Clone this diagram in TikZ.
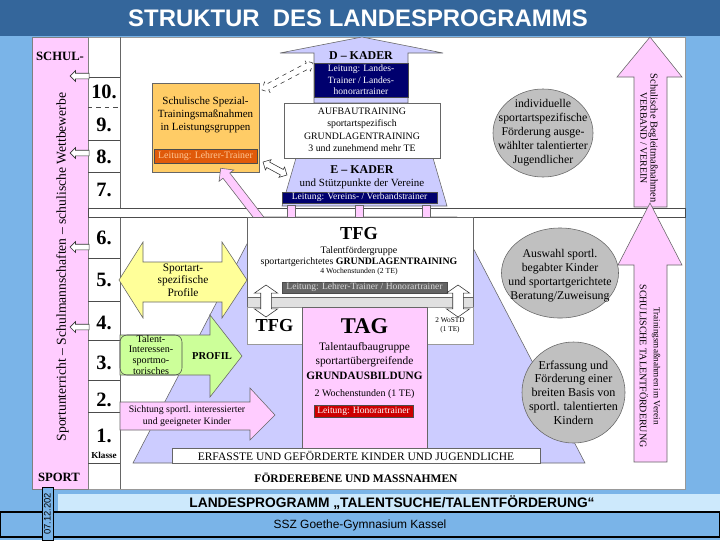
\documentclass[tikz,border=0pt]{standalone}
\usepackage{fontspec}
\setmainfont{Liberation Serif}
\newfontfamily\arialfont{Liberation Sans}
\usetikzlibrary{shapes.geometric,shapes.arrows,positioning}

\definecolor{bgblue}{RGB}{122,180,232}
\definecolor{titleblue}{RGB}{52,102,155}
\definecolor{lightband}{RGB}{205,233,252}
\definecolor{colpink}{RGB}{255,204,255}
\definecolor{lav}{RGB}{204,204,255}
\definecolor{navy}{RGB}{0,0,110}
\definecolor{spezorange}{RGB}{255,204,102}
\definecolor{leitorange}{RGB}{224,90,10}
\definecolor{leitorangetxt}{RGB}{255,200,150}
\definecolor{leitgray}{RGB}{100,100,100}
\definecolor{leitred}{RGB}{204,0,0}
\definecolor{ovalgray}{RGB}{192,192,192}
\definecolor{yelarr}{RGB}{255,255,153}
\definecolor{grnarr}{RGB}{204,255,153}
\definecolor{pinkarr}{RGB}{255,204,255}

\begin{document}
\begin{tikzpicture}[x=0.025cm, y=-0.025cm]
        \tikzstyle{numlbl} = [inner sep=0, font=\fontsize{14.5}{14.5}\selectfont\bfseries]
        \tikzstyle{leit} = [draw=black!70, inner sep=0, text=white, font=\fontsize{6.8}{8.2}\selectfont]
        \tikzstyle{oval} = [ellipse, draw=black!60, fill=ovalgray, inner sep=0]
        \tikzstyle{ovaltext} = [align=center, inner sep=0, font=\fontsize{8.4}{10}\selectfont]
        \tikzstyle{hollow} = [single arrow, draw=black!80, fill=white, inner sep=0.0625cm, single arrow head extend=0.065cm, single arrow head indent=0, minimum height=0.475cm]
        \tikzstyle{hollowdbl} = [double arrow, draw=black!80, fill=white, double arrow head indent=0]
        \tikzstyle{blockarr} = [draw=black!60, line join=miter]
        \tikzstyle{panel} = [draw=black!60, inner sep=0]

        \useasboundingbox (0,0) rectangle (720,540);

        % hintergrund und titel
        \fill[bgblue] (0,0) rectangle (720,540);
        \fill[titleblue] (0,0) rectangle (720,36);
        \node[text=white, font=\arialfont\bfseries\fontsize{17}{17}\selectfont] (title) at (358,18) {STRUKTUR\ \ DES LANDESPROGRAMMS};

        % tafel mit klassenspalte
        \draw[black!40, fill=white] (32,37) rectangle (685,489);
        \draw[black!50, fill=colpink] (32,37) rectangle (88,489);
        \draw[black!60] (120,37) -- (120,489);
        \foreach \yy in {77,140,172,258,301,340,380,412,463}
            \draw[black!70] (88,\yy) -- (120,\yy);
        \draw[black!70, dashed] (88,107) -- (120,107);
        \draw[black!70, fill=white] (88,208) rectangle (685,217);

        \foreach \n/\yy in {10/92,9/125,8/157,7/190,6/238,5/280,4/323,3/363,2/400,1/436}
            \node[numlbl] (cls\n) at (104,\yy) {\n.};
        \node[font=\fontsize{6.5}{6.5}\selectfont\bfseries] (klasse) at (104,455) {Klasse};

        \node[font=\fontsize{9}{9}\selectfont\bfseries] (schul) at (60,56) {SCHUL-};
        \node[font=\fontsize{9}{9}\selectfont\bfseries] (sport) at (59,477) {SPORT};
        \node[rotate=90, font=\fontsize{9.7}{9.7}\selectfont] (sportvert) at (62.5,267) {Sportunterricht -- Schulmannschaften -- schulische Wettbewerbe};

        % pyramide
        \draw[black!60, fill=lav] (133,463) -- (585,463) -- (457,217) -- (261,217) -- cycle;
        \draw[black!60, fill=lav] (282,206) -- (447,206) -- (433,158) -- (296,158) -- cycle;
        \draw[blockarr, fill=lav] (314,103) -- (314,53) -- (280,53) -- (362,37) -- (443,53) -- (408,53) -- (408,103) -- cycle;
        \node[panel, fill=white, minimum width=3.9cm, minimum height=1.375cm] (aufbau) at (362,130.5) {};
        \node[align=center, font=\fontsize{7}{8.9}\selectfont] (aufbautxt) at (362,130) {AUFBAUTRAINING\\sportartspezifisch\\GRUNDLAGENTRAINING\\3 und zunehmend mehr TE};

        \node[font=\fontsize{8.5}{8.5}\selectfont\bfseries] (dkader) at (361,56) {D -- KADER};
        \node[leit, fill=navy, minimum width=2.35cm, minimum height=0.85cm, align=center] (dleit) at (361,80) {Leitung: Landes-\\Trainer / Landes-\\honorartrainer};
        \node[font=\fontsize{8.5}{8.5}\selectfont\bfseries] (ekader) at (362,170) {E -- KADER};
        \node[font=\fontsize{7.8}{7.8}\selectfont] (ekstuetz) at (362,184) {und Stützpunkte der Vereine};
        \node[leit, fill=navy, minimum width=3.875cm, minimum height=0.275cm] (eleit) at (359.5,197.5) {Leitung: Vereins- / Verbandstrainer};

        % schulische spezialtrainings
        \node[panel, fill=spezorange, minimum width=2.675cm, minimum height=2.225cm] (spezial) at (205.5,127.5) {};
        \node[align=center, font=\fontsize{7.8}{9.2}\selectfont] (speztxt) at (205.5,115) {Schulische Spezial-\\Trainingsmaßnahmen\\in Leistungsgruppen};
        \node[leit, fill=leitorange, text=leitorangetxt, minimum width=2.575cm, minimum height=0.35cm, font=\fontsize{7}{7}\selectfont] (spezleit) at (205.5,156) {Leitung: Lehrer-Trainer};

        % rosa pfeile nach oben
        \foreach \xx in {291,359,426}
            \draw[black!60, fill=pinkarr] (\xx-4,205) rectangle (\xx+4,226);
        \node[single arrow, draw=black!60, fill=pinkarr, inner sep=0.1cm, single arrow head extend=0.125cm, single arrow head indent=0, minimum height=1.96cm, rotate=127.7] (diagarr) at (246,201) {};

        % TFG / TAG
        \node[panel, fill=white, minimum width=5.65cm, minimum height=2cm] (tfg) at (360,257) {};
        \node[font=\fontsize{13}{13}\selectfont\bfseries] (tfgtitle) at (359,234) {TFG};
        \node[font=\fontsize{7.1}{7.1}\selectfont] (tfgname) at (359,251) {Talentfördergruppe};
        \node[font=\fontsize{7}{7}\selectfont] (tfgtrain) at (359,262) {sportartgerichtetes \textbf{GRUNDLAGENTRAINING}};
        \node[font=\fontsize{5.5}{5.5}\selectfont] (tfgstd) at (359,272) {4 Wochenstunden (2 TE)};
        \node[leit, fill=leitgray, text=black!15, minimum width=4.125cm, minimum height=0.275cm] (tfgleit) at (364.5,287.5) {Leitung: Lehrer-Trainer / Honorartrainer};
        \draw[black!60, fill=black!12] (247,297) rectangle (473,307);

        \node[draw=black!40, fill=white, inner sep=0, minimum width=1.375cm, minimum height=0.925cm, font=\fontsize{13}{13}\selectfont\bfseries] (tfglow) at (274.5,325.5) {TFG};
        \node[draw=black!40, fill=white, inner sep=0, minimum width=1.15cm, minimum height=0.925cm, align=center, font=\fontsize{5.2}{6.5}\selectfont] (wostd) at (450,325.5) {2 WoSTD\\(1 TE)};
        \node[panel, fill=pinkarr, minimum width=3.125cm, minimum height=3.525cm] (tag) at (364.5,377.5) {};
        \node[font=\fontsize{16}{16}\selectfont\bfseries] (tagtitle) at (364.5,326) {TAG};
        \node[align=center, font=\fontsize{8.1}{9.9}\selectfont] (tagname) at (364.5,355) {Talentaufbaugruppe\\sportartübergreifende};
        \node[font=\fontsize{8}{8}\selectfont\bfseries] (taggrund) at (364.5,376) {GRUNDAUSBILDUNG};
        \node[font=\fontsize{7.1}{7.1}\selectfont] (tagstd) at (364.5,394) {2 Wochenstunden (1 TE)};
        \node[leit, fill=leitred, minimum width=2.475cm, minimum height=0.3cm] (tagleit) at (363.5,411.5) {Leitung: Honorartrainer};

        \node[hollowdbl, inner sep=0.125cm, double arrow head extend=0.16cm, double arrow tip angle=110, minimum height=0.8cm, rotate=90] (tfgdbl) at (266,301) {};
        \node[hollowdbl, inner sep=0.125cm, double arrow head extend=0.16cm, double arrow tip angle=110, minimum height=0.8cm, rotate=90] (wodbl) at (458,301) {};

        % pfeile links
        \draw[blockarr, fill=yelarr] (119,280) -- (143,242) -- (143,262) -- (222,262) -- (222,242) -- (247,280) -- (222,318) -- (222,302) -- (143,302) -- (143,318) -- cycle;
        \node[align=center, font=\fontsize{8.1}{9}\selectfont] (profile) at (183,280) {Sportart-\\spezifische\\Profile};
        \draw[blockarr, fill=grnarr] (120,335) -- (210,335) -- (210,315) -- (242,356) -- (210,397) -- (210,375) -- (120,375) -- cycle;
        \node[draw=black!70, rounded corners=5pt, inner sep=0, minimum width=1.55cm, minimum height=1cm, align=center, font=\fontsize{7.2}{7.8}\selectfont] (talent) at (151,355) {Talent-\\Interessen-\\sportmo-\\torisches};
        \node[font=\fontsize{7.5}{7.5}\selectfont\bfseries] (profil) at (212,356) {PROFIL};
        \draw[blockarr, fill=pinkarr] (120,402) -- (250,402) -- (250,388) -- (275,415) -- (250,440) -- (250,430) -- (120,430) -- cycle;
        \node[align=center, font=\fontsize{7}{8.5}\selectfont] (sichtung) at (187,416) {Sichtung sportl. interessierter\\und geeigneter Kinder};

        % ovale rechts
        \node[oval, minimum width=2.5cm, minimum height=2.2cm] (ell1) at (543,133) {};
        \node[ovaltext] (ell1txt) at (ell1) {individuelle\\sportartspezifische\\Förderung ausge-\\wählter talentierter\\Jugendlicher};
        \node[oval, minimum width=2.925cm, minimum height=2.25cm] (ell2) at (560,273) {};
        \node[ovaltext] (ell2txt) at (560,275.5) {Auswahl sportl.\\begabter Kinder\\und sportartgerichtete\\Beratung/Zuweisung};
        \node[oval, minimum width=2.575cm, minimum height=2.525cm] (ell3) at (573.5,392.5) {};
        \node[ovaltext, font=\fontsize{8.6}{9.8}\selectfont] (ell3txt) at (ell3) {Erfassung und\\Förderung einer\\breiten Basis von\\sportl. talentierten\\Kindern};

        % rosa pfeile rechts
        \draw[blockarr, fill=pinkarr] (634,207) -- (634,77) -- (617,77) -- (650,37) -- (682,77) -- (667,77) -- (667,207) -- cycle;
        \node[rotate=-90, align=center, font=\fontsize{7}{7.3}\selectfont] (begleit) at (649,138) {{\fontsize{7.4}{7.3}\selectfont Schulische Begleitmaßnahmen}\\VERBAND / VEREIN};
        \draw[blockarr, fill=pinkarr] (634,462) -- (634,265) -- (618,265) -- (650,203) -- (682,265) -- (667,265) -- (667,462) -- cycle;
        \node[rotate=-90, align=center, font=\fontsize{7.1}{10}\selectfont] (talentf) at (650,366) {{\fontsize{6.5}{10}\selectfont Trainingsmaßnahmen im Verein}\\SCHULISCHE TALENTFÖRDERUNG};

        % hohle pfeile
        \foreach \yy [count=\i] in {76,153,247,327}
            \node[hollow, rotate=180] (back\i) at (81,\yy) {};
        \node[hollowdbl, dashed, inner sep=0.07cm, double arrow head extend=0.07cm, minimum height=1.44cm, rotate=27.9] (dkdbl) at (287.5,76.5) {};
        \node[hollowdbl, inner sep=0.07cm, double arrow head extend=0.07cm, minimum height=0.68cm, rotate=-28.4] (ekdbl) at (275,168.5) {};

        % basis
        \node[panel, fill=white, minimum width=9.2cm, minimum height=0.375cm, font=\fontsize{8.2}{8.2}\selectfont] (erfasst) at (356,455.5) {ERFASSTE UND GEFÖRDERTE KINDER UND JUGENDLICHE};
        \node[font=\fontsize{8.2}{8.2}\selectfont\bfseries] (foerder) at (356,478) {FÖRDEREBENE UND MASSNAHMEN};

        % fusszeile
        \fill[lightband] (58,494) rectangle (720,512);
        \node[font=\arialfont\bfseries\fontsize{9.8}{9.8}\selectfont] (prog) at (392,503) {LANDESPROGRAMM „TALENTSUCHE/TALENTFÖRDERUNG“};
        \draw[black, line width=0.8pt] (0,512) rectangle (720,537);
        \node[font=\arialfont\fontsize{8.5}{8.5}\selectfont] (ssz) at (360,525) {SSZ Goethe-Gymnasium Kassel};
        \node[draw=black, fill=bgblue, rotate=90, inner sep=0, minimum width=1.33cm, minimum height=0.275cm, font=\arialfont\fontsize{6.7}{6.7}\selectfont] (datum) at (47.5,514) {07.12.202};
    \end{tikzpicture}
\end{document}
